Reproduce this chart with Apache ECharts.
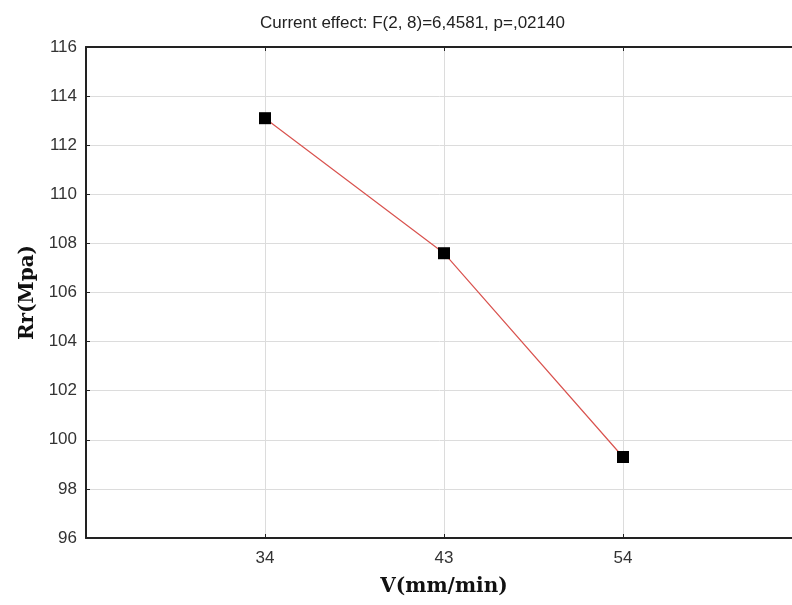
<!DOCTYPE html>
<html>
<head>
    <meta charset="utf-8">
    <title>Current effect</title>
    <script src="https://cdn.jsdelivr.net/npm/echarts@6/dist/echarts.min.js"></script>
    <style>
        html, body { margin: 0; padding: 0; background: #fff; }
    </style>
</head>
<body>
    <div id="main" style="width: 792px;height:605px;"></div>
    <script type="text/javascript">
        // data
        var speeds = ['34', '43', '54'];
        var rr = [113.1, 107.6, 99.3];
        var yTicks = [96, 98, 100, 102, 104, 106, 108, 110, 112, 114, 116];

        // empty slot on each side, like the original plot
        var cats = [''].concat(speeds, ['']);
        var vals = [null].concat(rr, [null]);

        var myChart = echarts.init(document.getElementById('main'));

        var option = {
            backgroundColor: '#fff',
            animation: false,
            title: {
                text: 'Current effect: F(2, 8)=6,4581, p=,02140',
                left: 255,
                top: 10,
                textStyle: {
                    fontFamily: 'Liberation Sans',
                    fontSize: 17,
                    fontWeight: 'normal',
                    color: '#222'
                }
            },
            grid: {
                left: 86,
                top: 47,
                right: -10,
                bottom: 67,
                outerBoundsMode: 'none'
            },
            xAxis: [{
                type: 'category',
                data: cats,
                boundaryGap: false,
                name: 'V(mm/min)',
                nameLocation: 'middle',
                nameGap: 39,
                nameTextStyle: {
                    fontFamily: 'DejaVu Serif',
                    fontWeight: 'bold',
                    fontSize: 20,
                    color: '#111'
                },
                axisLine: { lineStyle: { color: '#222', width: 2 } },
                axisTick: { inside: true, length: 4, lineStyle: { color: '#222' } },
                axisLabel: {
                    margin: 12,
                    fontFamily: 'Liberation Sans',
                    fontSize: 17,
                    color: '#333'
                },
                splitLine: { show: true, lineStyle: { color: '#dcdcdc', width: 1 } }
            }, {
                type: 'category',
                position: 'top',
                data: cats,
                boundaryGap: false,
                axisLine: { lineStyle: { color: '#222', width: 2 } },
                axisTick: { inside: true, length: 4, lineStyle: { color: '#222' } },
                axisLabel: { show: false },
                splitLine: { show: false }
            }],
            yAxis: {
                type: 'value',
                min: yTicks[0],
                max: yTicks[yTicks.length - 1],
                interval: 2,
                name: 'Rr(Mpa)',
                nameLocation: 'middle',
                nameGap: 48,
                nameRotate: 90,
                nameTextStyle: {
                    fontFamily: 'DejaVu Serif',
                    fontWeight: 'bold',
                    fontSize: 20,
                    color: '#111'
                },
                axisLine: { show: true, lineStyle: { color: '#222', width: 2 } },
                axisTick: { show: true, inside: true, length: 4, lineStyle: { color: '#222' } },
                axisLabel: {
                    margin: 9,
                    fontFamily: 'Liberation Sans',
                    fontSize: 17,
                    color: '#333'
                },
                splitLine: { show: true, lineStyle: { color: '#dcdcdc', width: 1 } }
            },
            series: [{
                type: 'line',
                data: vals,
                connectNulls: false,
                symbol: 'rect',
                symbolSize: 12,
                itemStyle: { color: '#000' },
                lineStyle: { color: '#d9534f', width: 1.2 },
                z: 5
            }]
        };

        myChart.setOption(option);
    </script>
</body>
</html>
